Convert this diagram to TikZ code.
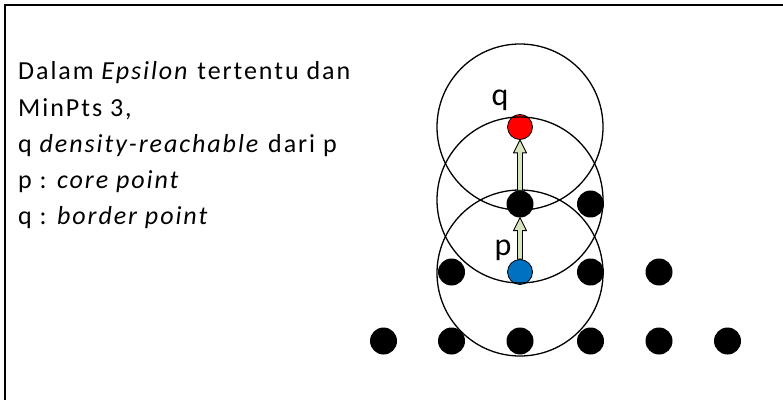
\documentclass[tikz,border=0pt]{standalone}
\usepackage{fontspec}
\setmainfont{Carlito}
\newfontfamily\widefont{Carlito}[LetterSpace=7.5]
\usetikzlibrary{calc}
\definecolor{ptblue}{HTML}{0070C0}
\definecolor{arrfill}{HTML}{D7E4BD}
\begin{document}
\begin{tikzpicture}[x=1pt,y=1pt,
  dot/.style={circle,fill=black,minimum size=27pt,inner sep=0pt},
  cdot/.style={circle,draw=black,line width=0.8pt,minimum size=25pt,inner sep=0pt},
  eps/.style={draw=black,line width=1.3pt},
  txt/.style={anchor=base west,inner sep=0pt,font=\widefont\fontsize{26}{31}\selectfont},
  lbl/.style={inner sep=0pt,anchor=base,font=\fontsize{32}{38}\selectfont},
  blockarrow/.style={draw=black,line width=0.9pt,fill=arrfill,line join=miter}]
\useasboundingbox (0,0) rectangle (783,399);
\fill[white] (0,0) rectangle (783,399);
\draw[line width=2pt] (5,-2) -- (5,394) -- (783,394);
% text
\node[txt] (t1) at (18,319) {Dalam \textit{Epsilon} tertentu dan};
\node[txt] (t2) at (18,282.5) {MinPts 3,};
\node[txt] (t3) at (18,246.5) {q \textit{density-reachable} dari p};
\node[txt] (t4) at (18,210.5) {p : \textit{core point}};
\node[txt] (t5) at (18,174) {q : \textit{border point}};
% points
\node[dot] (b1) at (383.5,58) {};
\node[dot] (b2) at (451.5,58) {};
\node[dot] (b3) at (520,58) {};
\node[dot] (b4) at (590.5,58) {};
\node[dot] (b5) at (659,58) {};
\node[dot] (b6) at (727.5,58) {};
\node[dot] (r1) at (451.5,127) {};
\node[cdot,fill=ptblue] (p) at (520,127) {};
\node[dot] (r3) at (590.5,127) {};
\node[dot] (r4) at (659,127) {};
\node[dot] (m) at (520,195) {};
\node[dot] (m2) at (590.5,195) {};
\node[cdot,fill=red] (q) at (520,272) {};
% epsilon circles
\draw[eps] (q) circle[radius=83];
\draw[eps] (520,199) coordinate (cm) circle[radius=83];
\draw[eps] (520,126) coordinate (cb) circle[radius=83];
% labels
\node[lbl] (ql) at (500,293) {q};
\node[lbl] (pl) at (503,144) {p};
% block arrows
\draw[blockarrow] ($(p.north)+(-2.5,0)$) -- ($(m.south)+(-2.5,-13)$) -- ($(m.south)+(-6.5,-13)$) -- (m.south) -- ($(m.south)+(6.5,-13)$) -- ($(m.south)+(2.5,-13)$) -- ($(p.north)+(2.5,0)$) -- cycle;
\draw[blockarrow] ($(m.north)+(-2.5,0)$) -- ($(q.south)+(-2.5,-13)$) -- ($(q.south)+(-6.5,-13)$) -- (q.south) -- ($(q.south)+(6.5,-13)$) -- ($(q.south)+(2.5,-13)$) -- ($(m.north)+(2.5,0)$) -- cycle;
\end{tikzpicture}
\end{document}
